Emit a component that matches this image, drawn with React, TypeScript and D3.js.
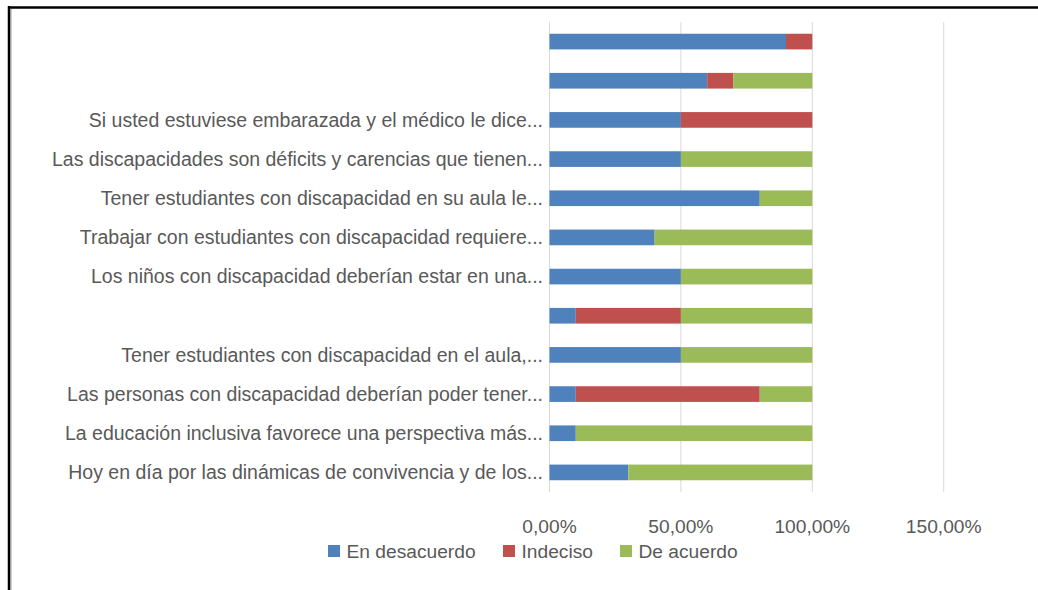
import React from "react";
import * as d3 from "d3";

const labels: string[] = [
  "",
  "",
  "Si usted estuviese embarazada y el médico le dice...",
  "Las discapacidades son déficits y carencias que tienen...",
  "Tener estudiantes con discapacidad en su aula le...",
  "Trabajar con estudiantes con discapacidad requiere...",
  "Los niños con discapacidad deberían estar en una...",
  "",
  "Tener estudiantes con discapacidad en el aula,...",
  "Las personas con discapacidad deberían poder tener...",
  "La educación inclusiva favorece una perspectiva más...",
  "Hoy en día por las dinámicas de convivencia y de los...",
];
const enDesacuerdo: number[] = [0.9, 0.6, 0.5, 0.5, 0.8, 0.4, 0.5, 0.1, 0.5, 0.1, 0.1, 0.3];
const indeciso: number[] = [0.1, 0.1, 0.5, 0, 0, 0, 0, 0.4, 0, 0.7, 0, 0];
const deAcuerdo: number[] = [0, 0.3, 0, 0.5, 0.2, 0.6, 0.5, 0.5, 0.5, 0.2, 0.9, 0.7];
const seriesNames: string[] = ["En desacuerdo", "Indeciso", "De acuerdo"];
const colors: string[] = ["#4F81BD", "#C0504D", "#9BBB59"];
const ticks: number[] = [0, 0.5, 1, 1.5];

const W = 1038;
const H = 590;
const FONT = "'Liberation Sans', Arial, sans-serif";

export default function App() {
  const x = d3.scaleLinear().domain([0, 1.5]).range([549.5, 943.7]);
  const idx = labels.map((_, i) => String(i));
  const y = d3.scaleBand<string>().domain(idx).range([22, 492]).paddingInner(0.6).paddingOuter(0.3);
  const rows = labels.map((l, i) => ({ i: String(i), a: enDesacuerdo[i], b: indeciso[i], c: deAcuerdo[i] }));
  const stack = d3.stack<any>().keys(["a", "b", "c"])(rows);
  const fmt = (v: number) => (v * 100).toFixed(2).replace(".", ",") + "%";
  const legendX = [328, 503, 620];

  return (
    <svg width={W} height={H} style={{ position: "absolute", left: 0, top: 0, background: "#fff" }}>
      <rect x={0} y={0} width={W} height={H} fill="#fff" />
      {ticks.map((t) => (
        <line key={t} x1={x(t)} x2={x(t)} y1={22} y2={492} stroke="#D9D9D9" strokeWidth={1} />
      ))}
      {stack.map((s, si) => (
        <g key={si} fill={colors[si]}>
          {s.map((d, j) => (
            <rect key={j} x={x(d[0])} y={y(String(j))!} width={Math.max(0, x(d[1]) - x(d[0]))} height={y.bandwidth()} />
          ))}
        </g>
      ))}
      <g fontFamily={FONT} fill="#595959">
        {labels.map((l, i) => (
          <text key={i} x={543} y={y(String(i))! + y.bandwidth() / 2} dy="0.35em" textAnchor="end" fontSize={19.5}>
            {l}
          </text>
        ))}
        {ticks.map((t) => (
          <text key={t} x={x(t)} y={526} dy="0.35em" textAnchor="middle" fontSize={19.2}>
            {fmt(t)}
          </text>
        ))}
        {seriesNames.map((n, i) => (
          <g key={n}>
            <rect x={legendX[i]} y={545} width={12} height={12} fill={colors[i]} />
            <text x={legendX[i] + 18.5} y={551.5} dy="0.35em" fontSize={19.2}>{n}</text>
          </g>
        ))}
      </g>
      <line x1={11} x2={11} y1={9} y2={H} stroke="#D0D0D0" strokeWidth={2} />
      <line x1={9} x2={9} y1={6} y2={H} stroke="#000" strokeWidth={2.5} />
      <line x1={8} x2={W} y1={7.5} y2={7.5} stroke="#000" strokeWidth={2.5} />
    </svg>
  );
}
